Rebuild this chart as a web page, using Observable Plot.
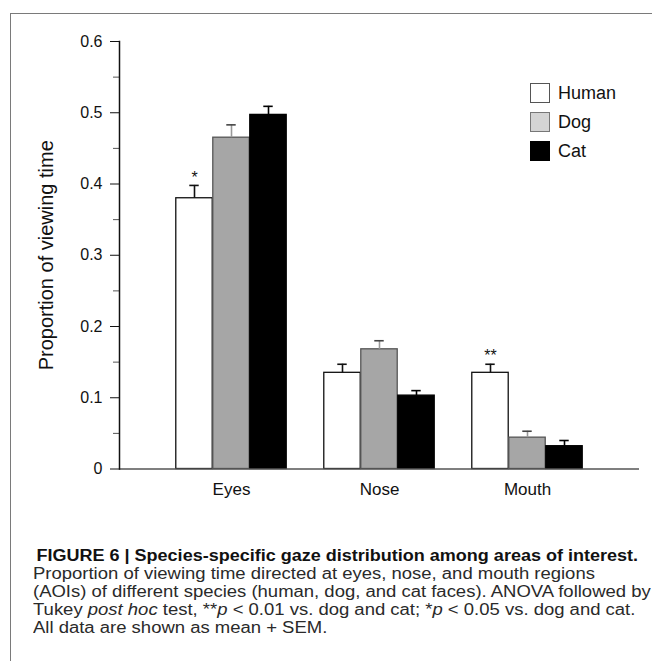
<!DOCTYPE html>
<html><head><meta charset="utf-8">
<script src="https://cdn.jsdelivr.net/npm/d3@7"></script>
<script src="https://cdn.jsdelivr.net/npm/@observablehq/plot@0.6"></script>
<style>
html,body{margin:0;padding:0;background:#fff;overflow:hidden;}
#wrap{position:relative;width:652px;height:661px;overflow:hidden;font-family:"Liberation Sans",Arial,sans-serif;}
#border{position:absolute;left:10px;top:13px;width:700px;height:700px;border-top:1.5px solid #7a7a7a;border-left:1.5px solid #7a7a7a;}
#chart{position:absolute;left:0;top:0;}
#legend{position:absolute;left:530px;top:83px;}
.item{display:flex;align-items:center;height:20px;margin-bottom:9px;}
.sw{width:18px;height:18px;border:1px solid #444;margin-right:8px;}
.lab{font-size:18px;color:#111;}
#caption{position:absolute;left:33px;top:547px;font-size:16px;line-height:18px;color:#2a2a2a;transform-origin:0 0;transform:scaleX(1.155);white-space:nowrap;}
#caption .l1{margin-left:3px;color:#111;font-size:15.6px;}
</style>
</head><body>
<div id="wrap">
  <div id="border"></div>
  <div id="chart"></div>
  <div id="legend"></div>
  <div id="caption">
    <div class="l1"><b>FIGURE 6 | Species-specific gaze distribution among areas of interest.</b></div>
    <div>Proportion of viewing time directed at eyes, nose, and mouth regions</div>
    <div>(AOIs) of different species (human, dog, and cat faces). ANOVA followed by</div>
    <div>Tukey <i>post hoc</i> test, **<i>p</i> &lt; 0.01 vs. dog and cat; *<i>p</i> &lt; 0.05 vs. dog and cat.</div>
    <div>All data are shown as mean + SEM.</div>
  </div>
</div>
<script>
const categories = ["Eyes", "Nose", "Mouth"];
const species = ["Human", "Dog", "Cat"];
const humanMean = [0.380, 0.135, 0.135];
const humanSem  = [0.018, 0.012, 0.012];
const dogMean   = [0.465, 0.168, 0.044];
const dogSem    = [0.018, 0.012, 0.009];
const catMean   = [0.497, 0.103, 0.032];
const catSem    = [0.012, 0.007, 0.008];
const yTicks = [0, 0.1, 0.2, 0.3, 0.4, 0.5, 0.6];
const yTickLabels = ["0", "0.1", "0.2", "0.3", "0.4", "0.5", "0.6"];
const yMinorTicks = [0.05, 0.15, 0.25, 0.35, 0.45, 0.55];
const yLabel = "Proportion of viewing time";
const annotations = [
  {category: "Eyes", species: "Human", label: "*"},
  {category: "Mouth", species: "Human", label: "**"}
];

const means = {Human: humanMean, Dog: dogMean, Cat: catMean};
const sems = {Human: humanSem, Dog: dogSem, Cat: catSem};
const styles = {
  Human: {fill: "#ffffff", stroke: "#111", stem: "#111", cap: "#111", swFill: "#ffffff", swStroke: "#555"},
  Dog:   {fill: "#a6a6a6", stroke: "#555", stem: "#999", cap: "#444", swFill: "#d4d4d4", swStroke: "#777"},
  Cat:   {fill: "#000000", stroke: "#000", stem: "#000", cap: "#000", swFill: "#000000", swStroke: "#000"}
};

const W = 652, H = 510;
const mL = 119, mR = 13, mT = 41, mB = 41.5;
const padOuter = 0.25;
const band = (W - mL - mR) / (categories.length + 2 * padOuter);
const BAR_W = 37;
const barInset = (band - BAR_W) / 2;
const CAP_W = 10;
const capInset = (band - CAP_W) / 2;

const marks = [];
species.forEach((s, j) => {
  const rows = categories.map((c, i) => ({category: c, species: s, mean: means[s][i], sem: sems[s][i]}));
  const st = styles[s];
  const dx = (j - 1) * BAR_W;
  marks.push(Plot.barY(rows, {x: "category", y: "mean", fill: st.fill, stroke: st.stroke, strokeWidth: 1.3,
    insetLeft: barInset, insetRight: barInset, dx}));
  marks.push(Plot.ruleX(rows, {x: "category", y1: "mean", y2: d => d.mean + d.sem, stroke: st.stem, strokeWidth: 1.6, dx}));
  marks.push(Plot.tickY(rows, {x: "category", y: d => d.mean + d.sem, stroke: st.cap, strokeWidth: 1.6,
    insetLeft: capInset, insetRight: capInset, dx}));
});

const annRows = annotations.map(a => {
  const i = categories.indexOf(a.category);
  return {...a, top: means[a.species][i] + sems[a.species][i]};
});
marks.push(Plot.text(annRows, {x: "category", y: "top", text: "label", fontSize: 16,
  dx: (species.indexOf("Human") - 1) * BAR_W, dy: -8}));

marks.push(Plot.ruleY([0], {stroke: "#555", strokeWidth: 1.3}));
marks.push(Plot.axisY({ticks: yTicks, tickSize: 9, tickPadding: 8, fontSize: 16, label: null,
  tickFormat: d => yTickLabels[yTicks.indexOf(d)], stroke: "#111"}));
marks.push(Plot.axisY({ticks: yMinorTicks, tickSize: 6, text: null, label: null, stroke: "#555"}));
marks.push(Plot.frame({anchor: "left", stroke: "#111", strokeWidth: 1.5}));
marks.push(Plot.axisX({tickSize: 0, tickPadding: 14, fontSize: 17, label: null}));
marks.push(Plot.text([yLabel], {frameAnchor: "left", textAnchor: "middle", rotate: -90, dx: -73, fontSize: 20}));

const chart = Plot.plot({
  width: W, height: H,
  marginLeft: mL, marginRight: mR, marginTop: mT, marginBottom: mB,
  x: {domain: categories, paddingInner: 0, paddingOuter: padOuter},
  y: {domain: [0, 0.6]},
  style: {fontFamily: "Liberation Sans, Arial, sans-serif", fontSize: "16px", color: "#111", background: "transparent", overflow: "visible"},
  marks
});
document.getElementById("chart").appendChild(chart);

const legend = document.getElementById("legend");
species.forEach(s => {
  const item = document.createElement("div");
  item.className = "item";
  const sw = document.createElement("div");
  sw.className = "sw";
  sw.style.background = styles[s].swFill;
  sw.style.borderColor = styles[s].swStroke;
  const lab = document.createElement("span");
  lab.className = "lab";
  lab.textContent = s;
  item.appendChild(sw); item.appendChild(lab);
  legend.appendChild(item);
});
</script>
</body></html>
